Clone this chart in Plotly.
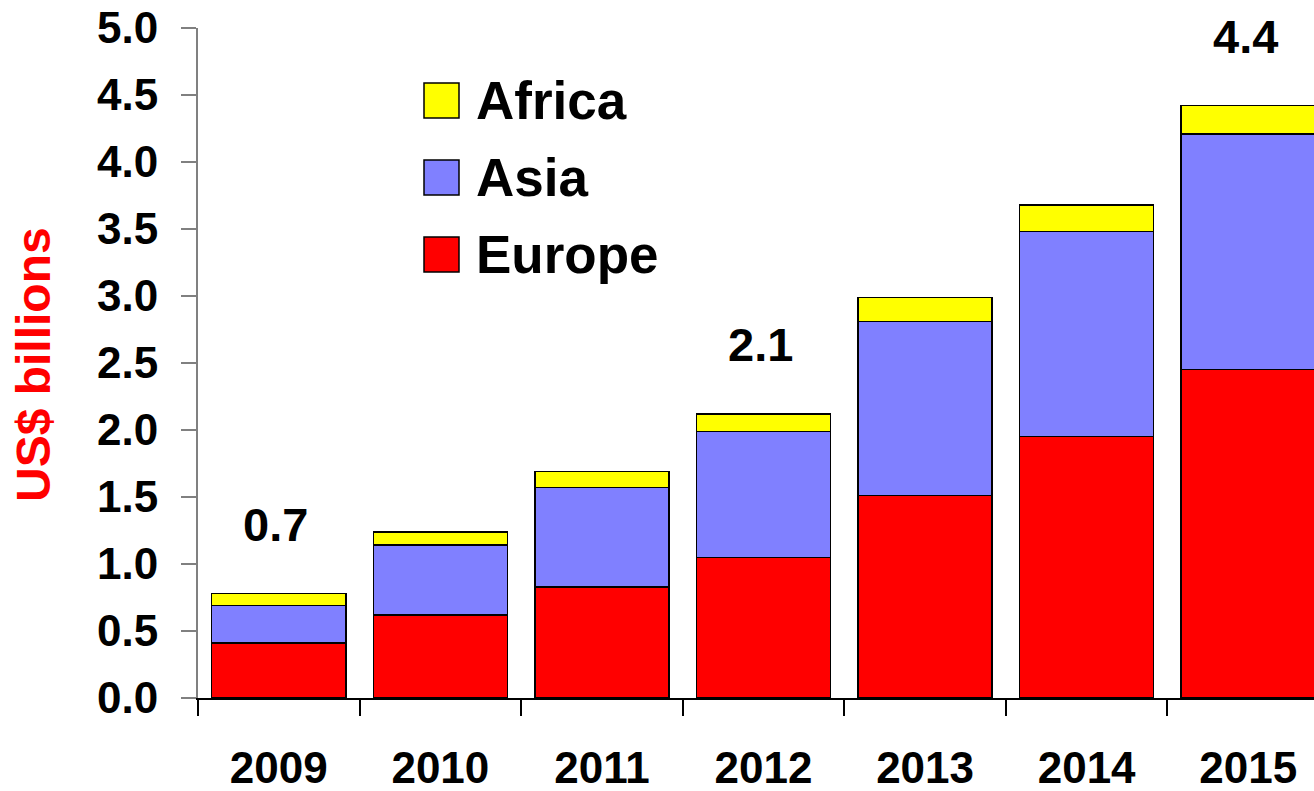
import math
import plotly.graph_objects as go

# Mobile money transaction values by region (US$ billions)
years = ["2009", "2010", "2011", "2012", "2013", "2014", "2015"]
europe = [0.41, 0.62, 0.83, 1.05, 1.51, 1.95, 2.45]
asia = [0.28, 0.52, 0.74, 0.94, 1.30, 1.53, 1.76]
africa = [0.09, 0.10, 0.12, 0.13, 0.18, 0.20, 0.21]

series_names = ["Europe", "Asia", "Africa"]
series_values = [europe, asia, africa]
series_colors = ["#FF0000", "#8080FF", "#FFFF00"]

# Totals shown above selected years (truncated to one decimal)
labelled_years = ["2009", "2012", "2015"]

y_ticks = [i * 0.5 for i in range(11)]

FONT = "Liberation Sans, Arial, sans-serif"
W, H = 1314, 791
L, R, T, B = 198, 0, 28, 93
PW, PH = W - L - R, H - T - B


def paper_x(px):
    return (px - L) / PW


def paper_y(py):
    return (H - B - py) / PH


fig = go.Figure()
for name, vals, col in zip(series_names, series_values, series_colors):
    fig.add_trace(go.Bar(
        x=years, y=vals, name=name,
        marker=dict(color=col, line=dict(color="black", width=1.5)),
        showlegend=False,
    ))

totals = [sum(v) for v in zip(*series_values)]
annotations = []
for idx, (yr, tot) in enumerate(zip(years, totals)):
    if yr in labelled_years:
        label = f"{math.floor(tot * 10 + 1e-9) / 10:.1f}"
        # numeric x on a category axis is the category index
        annotations.append(dict(
            x=idx, y=tot, xref="x", yref="y", text=label, showarrow=False,
            xanchor="center", yanchor="middle", yshift=69, xshift=-3,
            font=dict(family=FONT, size=47, color="black", weight="bold"),
        ))

# Legend drawn as large swatches with labels, top entry first
shapes = []
sq = 35
top0 = 83
step = 77
for i, (name, col) in enumerate(zip(series_names[::-1], series_colors[::-1])):
    top = top0 + i * step
    shapes.append(dict(
        type="rect", xref="paper", yref="paper",
        x0=paper_x(424), x1=paper_x(424 + sq),
        y0=paper_y(top + sq), y1=paper_y(top),
        fillcolor=col, line=dict(color="black", width=1.5),
    ))
    annotations.append(dict(
        x=paper_x(474), y=paper_y(top + sq / 2), xref="paper", yref="paper",
        text=name, showarrow=False, xanchor="left", yanchor="middle",
        font=dict(family=FONT, size=53, color="black", weight="bold"),
    ))

# Y-axis title
annotations.append(dict(
    x=paper_x(34), y=paper_y(365), xref="paper", yref="paper",
    text="US$ billions", showarrow=False, textangle=-90,
    xanchor="center", yanchor="middle",
    font=dict(family=FONT, size=48, color="#FF0000", weight="bold"),
))

n = len(years)
fig.update_layout(
    width=W, height=H,
    margin=dict(l=L, r=R, t=T, b=B, pad=0, autoexpand=False),
    paper_bgcolor="white", plot_bgcolor="white",
    barmode="stack", bargap=0.17,
    annotations=annotations, shapes=shapes,
    xaxis=dict(
        type="category", range=[-0.5, n - 0.5 - 15 / 161.6],
        tickson="boundaries", ticks="outside", ticklen=16, tickwidth=1.5,
        tickcolor="black", showline=True, linecolor="black", linewidth=1.5,
        showgrid=False, zeroline=False, ticklabelstandoff=30, automargin=False,
        tickfont=dict(family=FONT, size=44, color="black", weight="bold"),
    ),
    yaxis=dict(
        range=[0, 5], tickvals=y_ticks, tickformat=".1f",
        ticks="outside", ticklen=15, tickwidth=1.5, tickcolor="#808080",
        showline=True, linecolor="#808080", linewidth=2, automargin=False,
        showgrid=False, zeroline=False, ticklabelstandoff=14,
        tickfont=dict(family=FONT, size=44, color="black", weight="bold"),
    ),
)

fig.write_html("out.html")
